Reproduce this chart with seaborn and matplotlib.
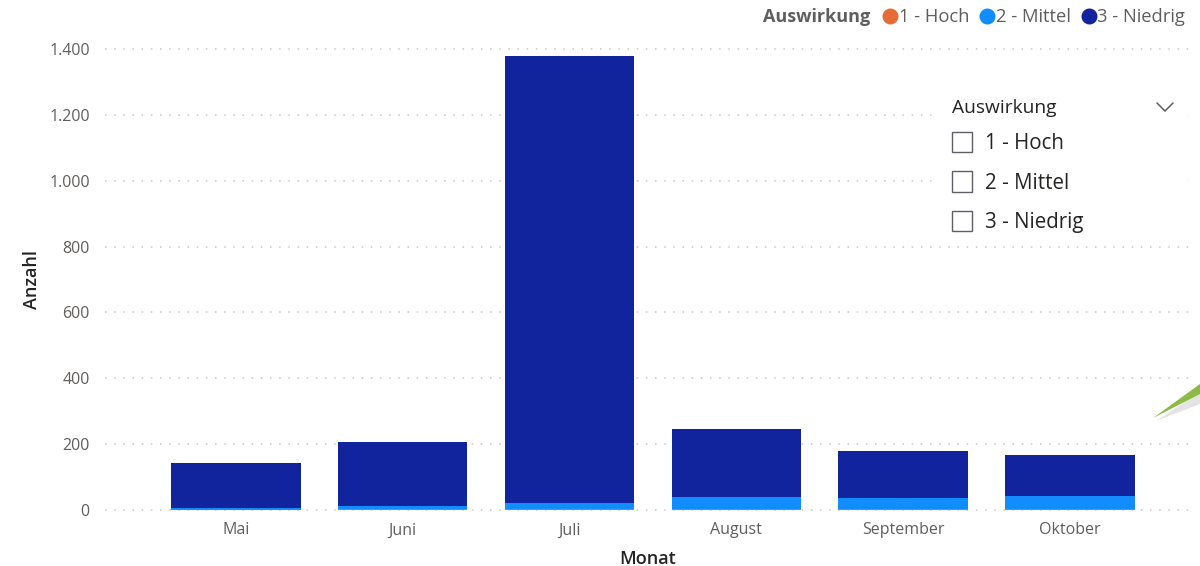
import numpy as np
import pandas as pd
import matplotlib
matplotlib.use("Agg")
import matplotlib.pyplot as plt
from matplotlib.lines import Line2D
from matplotlib.patches import Rectangle, Polygon
from matplotlib.ticker import FuncFormatter
import seaborn as sns

# ---- data -------------------------------------------------------------
months = ["Mai", "Juni", "Juli", "August", "September", "Oktober"]
levels = ["1 - Hoch", "2 - Mittel", "3 - Niedrig"]
hoch = [1, 2, 4, 3, 3, 3]
mittel = [4, 9, 17, 37, 34, 41]
niedrig = [139, 195, 1357, 207, 141, 124]
colors = ["#E66C37", "#118DFF", "#12239E"]
y_ticks = [0, 200, 400, 600, 800, 1000, 1200, 1400]

W, H = 1200, 566


def fx(x):
    return x / W


def fy(y):
    return 1 - y / H


sns.set_theme(style="white")
plt.rcParams["font.family"] = ["Open Sans", "DejaVu Sans"]

TICK_GREY = "#605E5C"
DARK = "#252423"

fig = plt.figure(figsize=(W / 100, H / 100), dpi=100)
ax = fig.add_axes([fx(105), fy(510), fx(1190) - fx(105), fy(49) - fy(510)])

df = pd.DataFrame({"Monat": months, levels[0]: hoch, levels[1]: mittel, levels[2]: niedrig})
stack = df[levels].cumsum(axis=1)

# stacked bars: draw cumulative totals from the top level down
for lvl, col in reversed(list(zip(levels, colors))):
    sns.barplot(x=df["Monat"], y=stack[lvl], order=months, color=col,
                saturation=1, width=0.775, ax=ax, zorder=2,
                linewidth=0, edgecolor=col)

ax.set_xlim(-0.785, 5.72)
ax.set_ylim(0, 1400)
ax.set_yticks(y_ticks)
ax.yaxis.set_major_formatter(FuncFormatter(lambda v, p: f"{int(v):,}".replace(",", ".")))

sns.despine(ax=ax, left=True, bottom=True)
ax.grid(axis="y", linestyle=(0, (1, 5)), color="#C8C6C4", linewidth=1.1)
ax.grid(axis="x", visible=False)
ax.set_axisbelow(True)
for gl in ax.get_ygridlines():
    gl.set_clip_on(False)

ax.tick_params(axis="y", length=0, labelsize=11.5, labelcolor=TICK_GREY, pad=11)
ax.tick_params(axis="x", length=0, labelsize=11.5, labelcolor=TICK_GREY, pad=9)

ax.set_ylabel("Anzahl", fontsize=13, color=DARK, labelpad=6, fontweight="semibold")
ax.set_xlabel("Monat", fontsize=13, color=DARK, labelpad=8, fontweight="semibold")

# ---- legend along the top ---------------------------------------------
fig.text(fx(763), fy(17), "Auswirkung", fontsize=13, fontweight="bold",
         color=TICK_GREY, ha="left", va="center")
handles = [Line2D([], [], marker="o", linestyle="none", markersize=10.5,
                  markerfacecolor=c, markeredgecolor=c) for c in colors]
fig.legend(handles, levels, loc="center left", bbox_to_anchor=(fx(884), fy(17)),
           ncol=3, frameon=False, fontsize=13.2, labelcolor=TICK_GREY,
           handlelength=0.7, handletextpad=0.12, columnspacing=0.62,
           borderpad=0, borderaxespad=0)

# ---- slicer panel -----------------------------------------------------
fig.add_artist(Rectangle((fx(936), fy(240)), fx(1188) - fx(936), fy(88) - fy(240),
                         transform=fig.transFigure, facecolor="white",
                         edgecolor="none", zorder=5))
fig.text(fx(952), fy(108), "Auswirkung", fontsize=13.8, color=DARK,
         ha="left", va="center", zorder=6)
fig.add_artist(Line2D([fx(1157), fx(1165), fx(1173)], [fy(103), fy(111), fy(103)],
                      transform=fig.transFigure, color=TICK_GREY, linewidth=1.1, zorder=6))
for i, lvl in enumerate(levels):
    yc = 142 + i * 39.5
    fig.add_artist(Rectangle((fx(952), fy(yc + 10)), fx(20), 20 / H,
                             transform=fig.transFigure, facecolor="white",
                             edgecolor="#5f5f66", linewidth=1.0, zorder=6))
    fig.text(fx(985), fy(yc + 1.5), lvl, fontsize=14.8, color=DARK,
             ha="left", va="center", zorder=6)

# ---- pointer wedge at the right edge ----------------------------------
fig.add_artist(Polygon([(fx(1156), fy(421)), (fx(1200), fy(392)), (fx(1200), fy(404))],
                       closed=True, transform=fig.transFigure,
                       facecolor="#d9d9d9", edgecolor="none", alpha=0.7, zorder=6))
fig.add_artist(Polygon([(fx(1153), fy(418)), (fx(1200), fy(384)), (fx(1200), fy(394))],
                       closed=True, transform=fig.transFigure,
                       facecolor="#8CBB45", edgecolor="none", zorder=7))

fig.savefig("out.png", dpi=100, facecolor="white")
